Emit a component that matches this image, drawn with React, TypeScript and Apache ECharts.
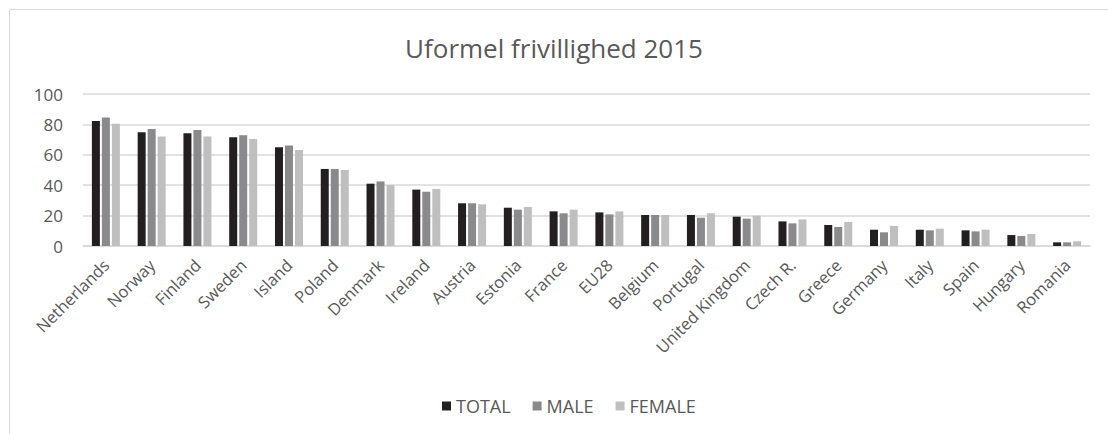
import React, { useEffect, useRef } from "react";
import * as echarts from "echarts";

const countries = [
  "Netherlands", "Norway", "Finland", "Sweden", "Island", "Poland", "Denmark",
  "Ireland", "Austria", "Estonia", "France", "EU28", "Belgium", "Portugal",
  "United Kingdom", "Czech R.", "Greece", "Germany", "Italy", "Spain", "Hungary", "Romania",
];
const totalValues = [82.2, 74.8, 74.1, 71.5, 64.9, 50.7, 41.0, 37.1, 28.1, 25.2, 22.8, 22.1, 20.4, 20.4, 19.3, 16.2, 13.8, 10.7, 10.7, 10.3, 7.2, 2.4];
const maleValues = [84.6, 77.0, 76.3, 72.8, 66.2, 50.7, 42.5, 35.7, 28.1, 23.9, 21.5, 20.8, 20.4, 18.6, 18.0, 14.9, 12.5, 9.0, 10.3, 9.6, 6.6, 2.4];
const femaleValues = [80.5, 72.1, 72.1, 70.4, 63.2, 50.0, 40.1, 37.5, 27.4, 25.7, 23.9, 22.8, 20.4, 21.5, 20.0, 17.5, 15.8, 13.2, 11.4, 10.7, 7.9, 3.1];
const seriesNames = ["TOTAL", "MALE", "FEMALE"];
const seriesColors = ["#231f20", "#8a8a8c", "#bfbfc0"];
const titleText = "Uformel frivillighed 2015";

export default function App() {
  const ref = useRef<HTMLDivElement>(null);
  useEffect(() => {
    document.body.style.margin = "0";
    const chart = echarts.init(ref.current!, undefined, { renderer: "svg" });
    const font = "'Open Sans', sans-serif";
    const dataSets = [totalValues, maleValues, femaleValues];
    chart.setOption({
      animation: false,
      backgroundColor: "#ffffff",
      textStyle: { fontFamily: font },
      title: {
        text: titleText,
        left: "center",
        top: 30,
        textStyle: { fontFamily: font, fontSize: 26, fontWeight: "normal", color: "#595959" },
      },
      graphic: [
        {
          type: "rect",
          shape: { x: 9.5, y: 9.5, width: 2000, height: 2000 },
          style: { fill: "none", stroke: "#d9d9d9", lineWidth: 1 },
          silent: true,
        },
      ],
      legend: {
        bottom: 14,
        left: 437,
        itemWidth: 9,
        itemHeight: 9,
        itemGap: 22,
        icon: "rect",
        textStyle: { fontFamily: font, fontSize: 18, color: "#595959" },
        data: seriesNames,
      },
      grid: { left: 83, right: 18, top: 94, height: 152, containLabel: false },
      xAxis: {
        type: "category",
        data: countries,
        axisTick: { show: false },
        axisLine: { lineStyle: { color: "#d9d9d9", width: 1.5 } },
        axisLabel: {
          rotate: 45,
          interval: 0,
          fontFamily: font,
          fontSize: 16.5,
          color: "#595959",
          margin: 16,
        },
      },
      yAxis: {
        type: "value",
        min: 0,
        max: 100,
        interval: 20,
        axisLine: { show: false },
        axisTick: { show: false },
        splitLine: { lineStyle: { color: "#d9d9d9", width: 1.5 } },
        axisLabel: { fontFamily: font, fontSize: 17, color: "#595959", margin: 20 },
      },
      series: seriesNames.map((name, i) => ({
        name,
        type: "bar",
        data: dataSets[i],
        barWidth: 8,
        barGap: "25%",
        itemStyle: { color: seriesColors[i] },
      })),
    });
    return () => chart.dispose();
  }, []);
  return <div ref={ref} style={{ width: 1108, height: 434 }} />;
}
